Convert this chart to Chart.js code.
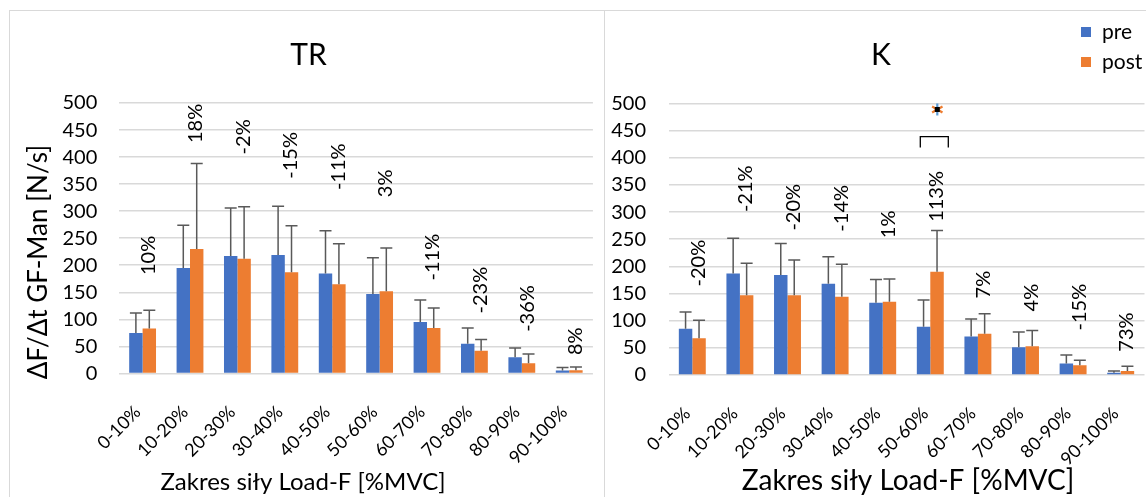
<!DOCTYPE html>
<html>
<head>
<meta charset="utf-8">
<script src="https://cdn.jsdelivr.net/npm/chart.js@4.4.1/dist/chart.umd.min.js"></script>
<style>
  html, body { margin: 0; padding: 0; background: #fff; overflow: hidden; }
  #wrap { position: relative; width: 1146px; height: 497px; overflow: hidden; font-family: Lato, sans-serif; }
  .box { position: absolute; top: 0; height: 497px; }
  #boxL { left: 10px; width: 595px; }
  #boxR { left: 605px; width: 552px; }
  .frame { position: absolute; background: #d9d9d9; }
  .sw { position: absolute; left: 1081px; width: 10px; height: 10px; }
  .lt { position: absolute; left: 1102px; font-size: 21px; line-height: 24px; color: #000; }
</style>
</head>
<body>
<div id="wrap">
  <div class="frame" style="left:9px;top:10px;width:1137px;height:1px"></div>
  <div class="frame" style="left:9px;top:10px;width:1px;height:487px"></div>
  <div class="frame" style="left:604px;top:10px;width:1px;height:487px"></div>
  <div class="box" id="boxL"><canvas id="chartTR"></canvas></div>
  <div class="box" id="boxR"><canvas id="chartK"></canvas></div>
  <div class="sw" style="top:27px;background:#4472C4"></div>
  <div class="lt" style="top:19px">pre</div>
  <div class="sw" style="top:57px;background:#ED7D31"></div>
  <div class="lt" style="top:49px">post</div>
</div>
<script>
// categories and values
const categories = ['0-10%', '10-20%', '20-30%', '30-40%', '40-50%', '50-60%', '60-70%', '70-80%', '80-90%', '90-100%'];

const trPre    = [75, 195, 217, 219, 185, 147, 95, 55, 30, 5.5];
const trPreSd  = [37, 79, 89, 90, 79, 67, 41, 29, 17, 5.5];
const trPost   = [83, 230, 212, 187, 165, 152, 84, 42, 19, 6];
const trPostSd = [34, 158, 96, 86, 75, 80, 37, 21, 17, 6];
const trChange   = ['10%', '18%', '-2%', '-15%', '-11%', '3%', '-11%', '-23%', '-36%', '8%'];
const trChangeAt = [182, 426, 405, 360, 339, 326, 172, 111, 77, 34];

const kPre    = [85, 187, 184, 168, 133, 89, 71, 51, 21.2, 4.2];
const kPreSd  = [31, 65, 58, 50, 43, 49, 32, 28, 15.5, 3.3];
const kPost   = [67.5, 147, 147, 144, 135, 190, 76, 53, 18, 7.3];
const kPostSd = [33.5, 59, 65, 60, 42, 76, 37, 29, 9, 8.7];
const kChange   = ['-20%', '-21%', '-20%', '-14%', '1%', '113%', '7%', '4%', '-15%', '73%'];
const kChangeAt = [163, 300, 266, 264, 252, 282, 141, 117, 82, 43];

const yMin = 0, yMax = 500, yStep = 50;
const yTitle = 'ΔF/Δt GF-Man [N/s]';
const xTitle = 'Zakres siły Load-F [%MVC]';

const FONT = 'Lato, sans-serif';

// error bars, change labels, significance mark and titles
function makeDecor(d) {
    return {
        id: 'decor',
        afterDatasetsDraw(chart) {
            const ctx = chart.ctx;
            const xs = chart.scales.x, ys = chart.scales.y;
            ctx.save();
            ctx.strokeStyle = '#595959';
            ctx.lineWidth = 1.5;
            [d.preSd, d.postSd].forEach((sd, i) => {
                const vals = chart.data.datasets[i].data;
                chart.getDatasetMeta(i).data.forEach((bar, j) => {
                    const top = ys.getPixelForValue(vals[j] + sd[j]);
                    ctx.beginPath();
                    ctx.moveTo(bar.x, bar.y);
                    ctx.lineTo(bar.x, top);
                    ctx.moveTo(bar.x - 6, top);
                    ctx.lineTo(bar.x + 6, top);
                    ctx.stroke();
                });
            });

            ctx.fillStyle = '#000';
            ctx.font = '20px ' + FONT;
            ctx.textAlign = 'left';
            ctx.textBaseline = 'middle';
            d.change.forEach((t, j) => {
                ctx.save();
                ctx.translate(xs.getPixelForValue(j) + 6, ys.getPixelForValue(d.changeAt[j]));
                ctx.rotate(-Math.PI / 2);
                ctx.fillText(t, 0, 0);
                ctx.restore();
            });

            if (d.sig) {
                const cx = xs.getPixelForValue(d.sig.cat);
                const yb = ys.getPixelForValue(d.sig.from);
                const yt = ys.getPixelForValue(d.sig.to);
                ctx.strokeStyle = '#000';
                ctx.lineWidth = 1.3;
                ctx.beginPath();
                ctx.moveTo(cx - 10, yb);
                ctx.lineTo(cx - 10, yt);
                ctx.lineTo(cx + 18, yt);
                ctx.lineTo(cx + 18, yb);
                ctx.stroke();
                // asterisk
                const sx = cx + 7, sy = ys.getPixelForValue(d.sig.star);
                ctx.lineWidth = 2.2;
                for (let k = 0; k < 3; k++) {
                    const a = k * Math.PI / 3 + Math.PI / 2;
                    ctx.strokeStyle = k === 0 ? '#5B9BD5' : '#ED7D31';
                    ctx.beginPath();
                    ctx.moveTo(sx - 6 * Math.cos(a), sy - 6 * Math.sin(a));
                    ctx.lineTo(sx + 6 * Math.cos(a), sy + 6 * Math.sin(a));
                    ctx.stroke();
                }
                ctx.fillStyle = '#000';
                ctx.fillRect(sx - 2.5, sy - 2.5, 5, 5);
            }
            ctx.restore();
        },
        afterDraw(chart) {
            const ctx = chart.ctx;
            ctx.save();
            ctx.fillStyle = '#000';
            ctx.textAlign = 'center';
            ctx.textBaseline = 'alphabetic';
            ctx.font = '30px ' + FONT;
            ctx.fillText(d.title, d.titleX, 65);
            ctx.font = d.xTitleSize + 'px ' + FONT;
            ctx.fillText(xTitle, d.xTitleX, 490);
            if (d.showYTitle) {
                ctx.translate(37, 262);
                ctx.rotate(-Math.PI / 2);
                ctx.font = '26px ' + FONT;
                ctx.fillText(yTitle, 0, 0);
            }
            ctx.restore();
        }
    };
}

function makeChart(id, d) {
    return new Chart(document.getElementById(id).getContext('2d'), {
        type: 'bar',
        data: {
            labels: categories,
            datasets: [
                { label: 'pre', data: d.pre, backgroundColor: '#4472C4' },
                { label: 'post', data: d.post, backgroundColor: '#ED7D31' }
            ]
        },
        options: {
            responsive: true,
            maintainAspectRatio: false,
            animation: false,
            layout: { padding: { top: d.top, right: d.right, bottom: 0, left: 0 } },
            datasets: { bar: { categoryPercentage: 0.566, barPercentage: 1.0 } },
            scales: {
                x: {
                    grid: { display: false },
                    border: { display: false },
                    ticks: {
                        color: '#000',
                        font: { size: 18, family: FONT },
                        minRotation: 45,
                        maxRotation: 45,
                        autoSkip: false,
                        labelOffset: -5,
                        padding: 20
                    },
                    afterFit(s) { s.height = d.xHeight; }
                },
                y: {
                    min: yMin,
                    max: yMax,
                    grid: { color: '#d9d9d9', lineWidth: 1.6, drawTicks: false },
                    border: { display: false },
                    ticks: {
                        stepSize: yStep,
                        color: '#000',
                        font: { size: 20, family: FONT },
                        padding: d.tickPad
                    },
                    afterFit(s) { s.width = d.yWidth; }
                }
            },
            plugins: {
                legend: { display: false },
                tooltip: { enabled: false }
            }
        },
        plugins: [makeDecor(d)]
    });
}

document.addEventListener('DOMContentLoaded', () => {
    makeChart('chartTR', {
        title: 'TR', titleX: 298.5, xTitleX: 293, xTitleSize: 24, showYTitle: true,
        pre: trPre, preSd: trPreSd, post: trPost, postSd: trPostSd,
        change: trChange, changeAt: trChangeAt,
        top: 103, right: 10.1, yWidth: 108.9, xHeight: 123.5, tickPad: 21.6
    });
    makeChart('chartK', {
        title: 'K', titleX: 276, xTitleX: 303, xTitleSize: 28, showYTitle: false,
        pre: kPre, preSd: kPreSd, post: kPost, postSd: kPostSd,
        change: kChange, changeAt: kChangeAt,
        sig: { cat: 5, from: 419, to: 439, star: 489 },
        top: 103.5, right: 12.5, yWidth: 63.5, xHeight: 122, tickPad: 22.5
    });
});
</script>
</body>
</html>
